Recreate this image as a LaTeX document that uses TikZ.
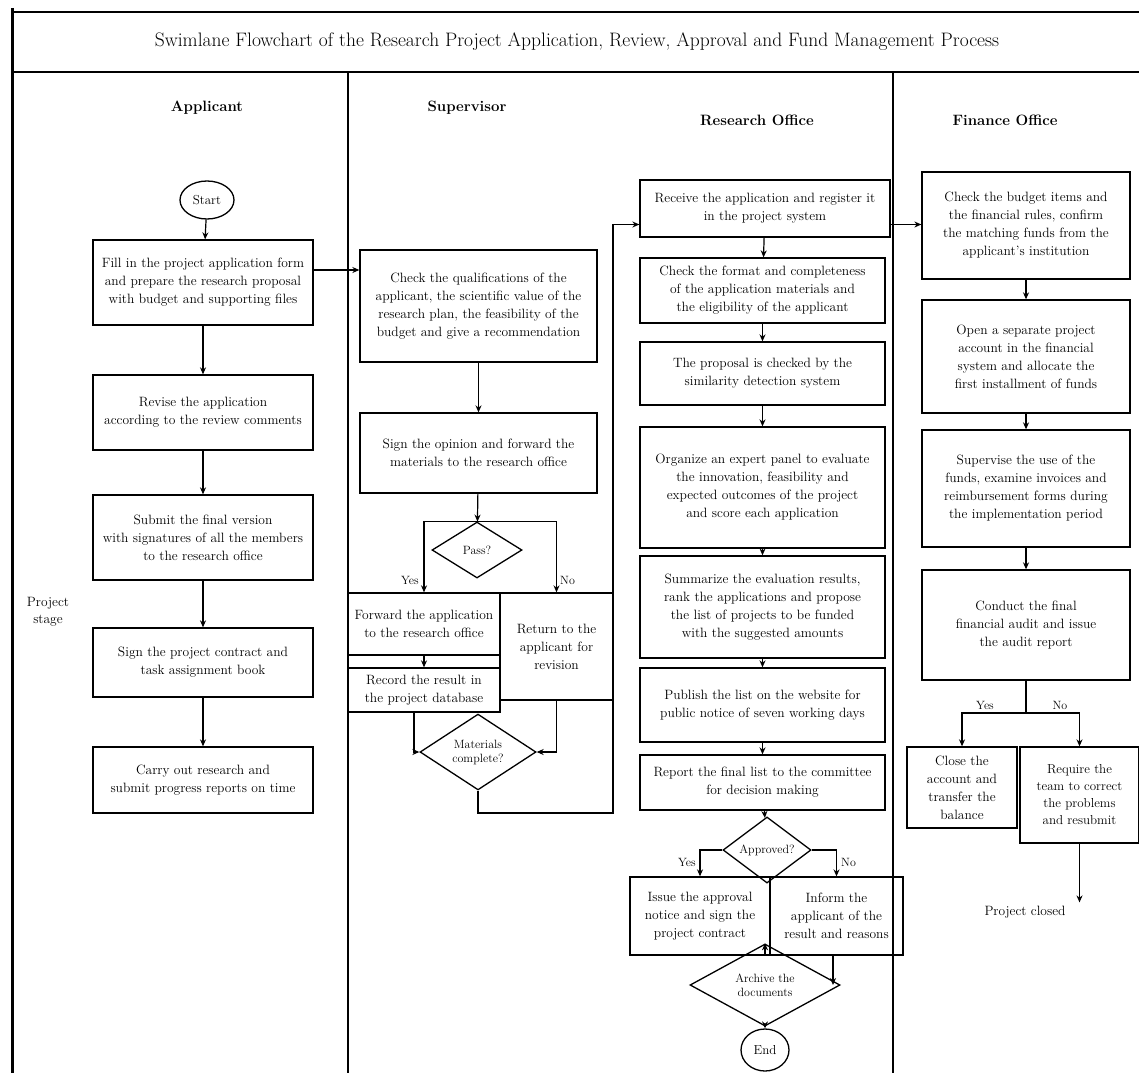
\documentclass[tikz,border=0pt]{standalone}
\usetikzlibrary{shapes.geometric,arrows.meta}
\begin{document}
\begin{tikzpicture}[x=1pt,y=-1pt,
 box/.style={draw, line width=1.3pt, align=center, inner sep=2pt, font=\fontsize{13.5}{18}\selectfont},
 dia/.style={draw, diamond, line width=1.3pt, align=center, inner sep=0pt, font=\fontsize{12}{14}\selectfont},
 term/.style={draw, ellipse, line width=1.3pt, align=center, inner sep=1pt, font=\fontsize{13}{15}\selectfont},
 arr/.style={-{Stealth[length=7pt,width=6pt]}, line width=1.2pt},
 lbl/.style={font=\fontsize{12}{14}\selectfont, inner sep=1pt},
 hdr/.style={font=\fontsize{15}{18}\selectfont\bfseries},
 lane/.style={line width=1.6pt}
]
\useasboundingbox (0,0) rectangle (1139,1073);
% frame and lanes
\draw[line width=3pt] (12,8) -- (12,1073);
\draw[line width=2.5pt] (12,12) -- (1139,12);
\draw[line width=2pt] (12,72) -- (1139,72);
\draw[lane] (348,72) -- (348,1073);
\draw[lane] (893,72) -- (893,1073);
\node[font=\fontsize{19.5}{22}\selectfont] (title) at (577,42) {Swimlane Flowchart of the Research Project Application, Review, Approval and Fund Management Process};
\node[hdr] (hA) at (207,108) {Applicant};
\node[hdr] (hB) at (467,108) {Supervisor};
\node[hdr] (hC) at (757,120) {Research Office};
\node[hdr] (hD) at (1005,120) {Finance Office};
\node[lbl, align=center, font=\fontsize{13.5}{17}\selectfont] (phase) at (48,612) {Project\\stage};

% ---------- lane 1
\node[term, minimum width=54pt, minimum height=38pt] (start) at (207,200) {Start};
\node[box, minimum width=220pt, minimum height=85pt] (b1) at (203,282.5) {Fill in the project application form\\and prepare the research proposal\\with budget and supporting files};
\node[box, minimum width=220pt, minimum height=75pt] (b2) at (203,412.5) {Revise the application\\according to the review comments};
\node[box, minimum width=220pt, minimum height=85pt] (b3) at (203,537.5) {Submit the final version\\with signatures of all the members\\to the research office};
\node[box, minimum width=220pt, minimum height=69pt] (b4) at (203,662.5) {Sign the project contract and\\task assignment book};
\node[box, minimum width=220pt, minimum height=66pt] (b5) at (203,780) {Carry out research and\\submit progress reports on time};

% ---------- lane 2
\node[box, minimum width=237pt, minimum height=112pt] (a1) at (478.5,306) {Check the qualifications of the\\applicant, the scientific value of the\\research plan, the feasibility of the\\budget and give a recommendation};
\node[box, minimum width=237pt, minimum height=80pt] (a2) at (478.5,453) {Sign the opinion and forward the\\materials to the research office};
\node[dia, minimum width=90pt, minimum height=56pt] (d1) at (477,550) {Pass?};
\node[box, minimum width=152pt, minimum height=62pt] (c1) at (424,624) {Forward the application\\to the research office};
\node[box, minimum width=152pt, minimum height=44pt] (c2) at (424,690) {Record the result in\\the project database};
\node[box, minimum width=113pt, minimum height=107pt] (dd) at (556.5,646.5) {Return to the\\applicant for\\revision};
\node[dia, minimum width=116pt, minimum height=68pt] (d2) at (478,752) {Materials\\complete?};
\node[lbl, anchor=east] (y1) at (420,580) {Yes};
\node[lbl, anchor=west] (n1) at (559,580) {No};
\coordinate (loopB) at (613,813);

% ---------- lane 3
\node[box, minimum width=250pt, minimum height=57pt] (e1) at (765,208.5) {Receive the application and register it\\in the project system};
\node[box, minimum width=245pt, minimum height=65pt] (e2) at (762.5,290.5) {Check the format and completeness\\of the application materials and\\the eligibility of the applicant};
\node[box, minimum width=245pt, minimum height=63pt] (e3) at (762.5,373.5) {The proposal is checked by the\\similarity detection system};
\node[box, minimum width=245pt, minimum height=121pt] (e4) at (762.5,487.5) {Organize an expert panel to evaluate\\the innovation, feasibility and\\expected outcomes of the project\\and score each application};
\node[box, minimum width=245pt, minimum height=102pt] (e5) at (762.5,607) {Summarize the evaluation results,\\rank the applications and propose\\the list of projects to be funded\\with the suggested amounts};
\node[box, minimum width=245pt, minimum height=74pt] (e6) at (762.5,705) {Publish the list on the website for\\public notice of seven working days};
\node[box, minimum width=245pt, minimum height=55pt] (e7) at (762.5,782.5) {Report the final list to the committee\\for decision making};
\node[dia, minimum width=88pt, minimum height=52pt] (d3) at (767,850) {Approved?};
\node[box, minimum width=140pt, minimum height=78pt] (f1) at (700,916) {Issue the approval\\notice and sign the\\project contract};
\node[box, minimum width=133pt, minimum height=78pt] (f2) at (836.5,916) {Inform the\\applicant of the\\result and reasons};
\node[dia, minimum width=150pt, minimum height=52pt] (d4) at (765,985) {Archive the\\documents};
\node[term, minimum width=48pt, minimum height=42pt] (fin) at (765,1050) {End};
\node[lbl, anchor=east] (y3) at (697,862) {Yes};
\node[lbl, anchor=west] (n3) at (840,862) {No};

% ---------- lane 4
\node[box, minimum width=208pt, minimum height=107pt] (g1) at (1026,225.5) {Check the budget items and\\the financial rules, confirm\\the matching funds from the\\applicant's institution};
\node[box, minimum width=208pt, minimum height=113pt] (g2) at (1026,356.5) {Open a separate project\\account in the financial\\system and allocate the\\first installment of funds};
\node[box, minimum width=208pt, minimum height=117pt] (g3) at (1026,488.5) {Supervise the use of the\\funds, examine invoices and\\reimbursement forms during\\the implementation period};
\node[box, minimum width=208pt, minimum height=110pt] (g4) at (1026,625) {Conduct the final\\financial audit and issue\\the audit report};
\coordinate (sp) at (1026,713);
\node[box, minimum width=110pt, minimum height=81pt] (h1) at (962,787.5) {Close the\\account and\\transfer the\\balance};
\node[box, minimum width=119pt, minimum height=96pt, font=\fontsize{13}{17}\selectfont] (h2) at (1079.5,795) {Require the\\team to correct\\the problems\\and resubmit};
\node[font=\fontsize{13.5}{16}\selectfont] (end4) at (1025,912) {Project closed};
\node[lbl, anchor=south] (y4) at (985,711) {Yes};
\node[lbl, anchor=south] (n4) at (1060,711) {No};

% ---------- connectors
\draw[arr] (start) -- (b1);
\draw[arr] (b1) -- (b2);
\draw[arr] (b2) -- (b3);
\draw[arr] (b3) -- (b4);
\draw[arr] (b4) -- (b5);
\draw[arr] ([yshift=12.5pt]b1.east) -- ([yshift=12.5pt]b1.east -| a1.west);
\draw[arr] (a1) -- (a2);
\draw[arr] (a2) -- (d1);
\draw[arr] (d1.north) -| (c1.north);
\draw[arr] (d1.north) -| (dd.north);
\draw[arr] (c1) -- (c2);
\draw[arr] ([xshift=-10pt]c2.south) |- (d2.west);
\draw[arr] (dd.south) |- (d2.east);
\draw[arr] (d2.south) |- (loopB) |- ([yshift=-16pt]e1.west);
\draw[arr] ([yshift=-16pt]e1.east) -- ([yshift=-16pt]e1.east -| g1.west);
\draw[arr] (e1) -- (e2);
\draw[arr] (e2) -- (e3);
\draw[arr] (e3) -- (e4);
\draw[arr] (e4) -- (e5);
\draw[arr] (e5) -- (e6);
\draw[arr] (e6) -- (e7);
\draw[arr] (e7) -- (d3);
\draw[arr] (d3.west) -| (f1.north);
\draw[arr] (d3.east) -| (f2.north);
\draw[arr] (f1.south -| d4.north) -- (d4.north);
\draw[arr] ([xshift=-3.5pt]f2.south) -- ([xshift=-3.5pt]f2.south |- d4.east);
\draw[arr] (d4) -- (fin);
\draw[arr] (g1) -- (g2);
\draw[arr] (g2) -- (g3);
\draw[arr] (g3) -- (g4);
\draw[line width=1.2pt] (g4.south) -- (sp);
\draw[arr] (sp) -| (h1.north);
\draw[arr] (sp) -| (h2.north);
\draw[arr] (h2.south) -- (h2.south |- end4.north);
\end{tikzpicture}
\end{document}
